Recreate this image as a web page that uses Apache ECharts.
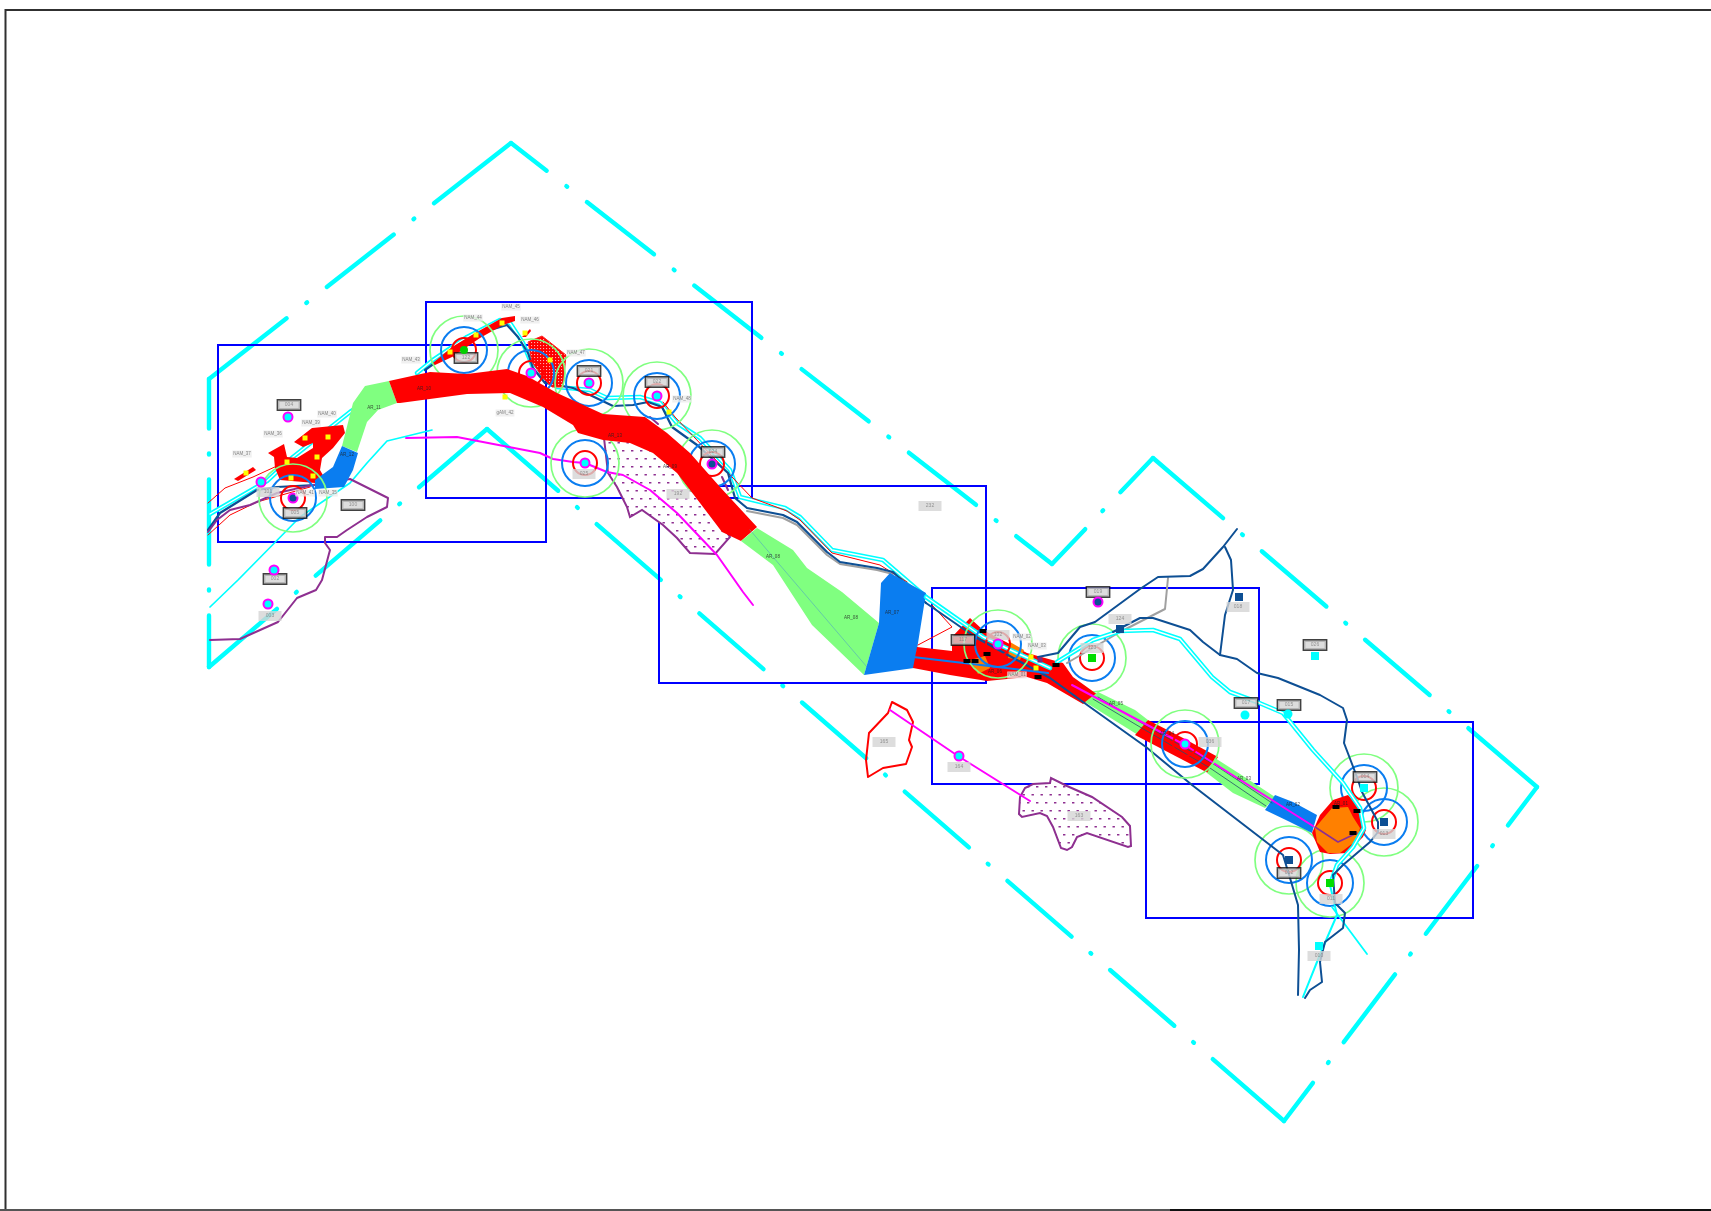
<!DOCTYPE html>
<html><head><meta charset="utf-8">
<style>html,body{margin:0;padding:0;background:#fff}#c{width:1711px;height:1211px}</style>
<script src="https://cdn.jsdelivr.net/npm/echarts@6/dist/echarts.min.js"></script>
</head><body><div id="c"></div>
<script>
// ---- map geometry (map units) ----
const frameLines=[[[5.5,1211],[5.5,10],[1711,10]],[[0,1210],[1170,1210]],[[1170,1210],[1711,1210]]];
const boundaryCorners=[[511,143],[1052,564],[1153,458],[1537,787],[1284,1121],[487,429],[209,667],[209,379],[511,143]];
const boundaryFirstDot=[70.7,73.6,117.8,73.6,119.8,115,77,124];
const sheetRects=[[218,345,546,542],[426,302,752,498],[659,486,986,683],[932,588,1259,784],[1146,722,1473,918]];

const bandAR10=[[389,381],[430,372],[467,374],[507,369],[527,376],[557,393],[603,414],[645,417],[667,433],[690,453],[720,487],[757,527],[741,541],[722,532],[700,503],[677,473],[653,453],[630,443],[603,440],[578,433],[573,425],[543,407],[510,393],[467,394],[400,403],[397,403]];
const bandAR11=[[365,386],[389,381],[397,403],[378,410],[367,422],[357,452],[342,446],[353,403]];
const bandAR12=[[342,446],[358,453],[353,470],[344,487],[315,489],[315,480],[333,467]];
const bandAR08=[[757,528],[793,550],[807,568],[842,592],[879,623],[864,675],[812,625],[773,565],[741,541]];
const bandAR07=[[890,573],[926,593],[914,668],[864,675],[879,623],[881,583]];
const bandAR06=[[917,647],[952,651],[952,637],[970,618],[983,630],[1027,653],[1063,663],[1073,677],[1098,695],[1083,704],[1047,683],[1027,677],[987,681],[950,675],[913,668]];
const bandAR05=[[1098,692],[1135,710],[1148,720],[1138,735],[1085,702]];
const bandAR04=[[1148,720],[1183,738],[1218,757],[1208,773],[1135,735]];
const bandAR03=[[1215,758],[1240,774],[1275,797],[1265,808],[1233,793],[1207,773]];
const bandAR02=[[1275,795],[1293,802],[1317,815],[1312,833],[1290,822],[1265,810]];
const bandAR01=[[1320,815],[1333,800],[1348,795],[1360,808],[1366,830],[1363,837],[1347,853],[1330,854],[1320,852],[1312,833]];
const orangeAR01=[[1315,828],[1332,808],[1348,807],[1353,817],[1360,828],[1357,840],[1340,853],[1328,853],[1317,842]];
const orangeA=[[1010,642],[1024,650],[1020,660],[1008,658]];
const orangeB=[[970,660],[985,656],[990,668],[978,674]];

const blobWest=[[294,442],[312,428],[343,425],[345,433],[333,448],[322,458],[320,470],[324,477],[315,483],[280,480],[275,468],[274,457],[268,453],[284,444],[287,457],[297,458],[313,448],[313,443],[303,447]];
const blobSmall=[[234,479],[253,467],[256,470],[238,481]];
const stripNorth=[[433,363],[452,347],[477,332],[502,318],[515,316],[515,321],[503,325],[480,338],[452,357],[435,365]];
const stripTiny=[[522,337],[530,329],[531,331],[526,337]];
const dottedRed=[[528,342],[542,336],[566,355],[563,387],[552,387],[543,378],[532,362]];
const dottedPurpleA=[[604,438],[608,473],[617,487],[627,507],[630,517],[642,510],[663,525],[677,538],[690,553],[715,554],[730,537],[722,525],[700,490],[660,440]];
const dottedPurpleB=[[1051,778],[1050,783],[1033,784],[1025,788],[1020,797],[1019,814],[1022,817],[1040,813],[1047,816],[1053,827],[1061,848],[1067,850],[1072,847],[1077,837],[1087,833],[1128,847],[1131,846],[1130,826],[1122,817],[1092,797],[1067,786]];
const outline165=[[892,702],[907,710],[913,722],[909,740],[912,747],[906,764],[883,768],[868,777],[866,760],[869,733],[888,713],[892,702]];

const magentaA=[[406,438],[457,437],[540,453],[553,459],[573,462],[585,463],[607,472],[623,475],[650,490],[677,513],[717,555],[743,592],[753,605]];
const magentaB=[[890,710],[958,756],[1030,801]];
const magentaC=[[1072,685],[1185,745],[1313,826]];
const purpleWest=[[208,532],[217,520],[230,510],[250,505],[277,493],[313,485],[350,479],[388,498],[387,507],[367,517],[347,530],[337,537],[325,537],[325,543],[330,550],[322,580],[316,590],[297,598],[278,622],[240,639],[210,640]];
const cyanThinWest=[[210,607],[238,580],[300,517],[350,483],[367,463],[387,441],[432,430]];
const purpleShort=[[650,417],[658,424]];
const purpleNear=[[722,477],[728,490]];

const riverCyanWest=[[210,514],[267,481],[293,457],[350,412],[368,400]];
const riverCyanMid=[[417,373],[433,360],[467,337],[500,320],[510,323],[523,343],[533,367],[557,387],[590,390],[607,398],[640,397],[660,403],[677,423],[700,438],[730,470],[740,497],[785,508],[800,517],[832,550],[883,560],[897,572],[926,597]];
const riverCyanEast=[[926,597],[983,637],[1017,653],[1050,668]];
const riverCyanBranch=[[1057,662],[1093,640],[1120,631],[1153,630],[1180,639],[1212,677],[1230,692],[1257,702],[1283,713],[1313,750],[1343,783],[1360,808],[1364,828],[1353,847],[1337,865],[1330,885]];
const riverCyanLower=[[1330,885],[1337,915],[1327,938],[1317,962],[1303,997]];
const riverCyanSpur=[[1332,907],[1367,954]];
const riverDarkWest=[[208,530],[220,513],[257,490],[277,487],[315,485]];
const riverDarkMid=[[425,370],[453,350],[490,330],[507,325],[518,337],[528,353],[533,368],[545,383],[573,388],[590,395],[613,406],[633,405],[648,402],[662,407],[672,427],[697,445],[728,473],[735,498],[747,508],[783,515],[797,522],[827,552],[840,562],[877,568],[893,572],[926,603]];
const riverDarkEast=[[926,603],[975,637],[1017,660],[1050,678],[1090,707],[1146,747],[1192,785],[1283,855],[1290,878],[1298,905],[1299,950],[1298,995]];
const riverDarkNorth=[[1038,657],[1058,653],[1080,627],[1095,622],[1140,589],[1158,577],[1190,576],[1203,569],[1223,547],[1237,529]];
const riverDarkSouth=[[1113,632],[1140,618],[1153,618],[1190,630],[1203,642],[1220,655],[1237,659],[1257,673],[1278,678],[1320,695],[1343,708],[1347,720],[1344,743],[1357,777],[1362,792],[1378,822],[1378,832],[1370,842],[1343,865],[1333,875],[1335,903],[1345,913],[1343,928],[1325,942],[1320,962],[1322,982],[1310,990],[1305,998]];
const riverDarkFeeder=[[1225,547],[1231,560],[1233,590],[1225,615],[1220,655]];
const riverGrayEast=[[1168,578],[1165,609],[1120,632],[1067,663]];
const riverGrayShadow=[[747,511],[783,518],[797,525],[827,555],[840,564],[877,570],[893,574]];
const redThinA=[[208,503],[225,488],[253,477],[290,460]];
const redThinB=[[208,535],[230,515],[257,502],[310,487]];
const redThinC=[[663,402],[675,417],[752,498],[787,511],[800,520],[832,553],[880,565],[907,582]];
const redThinD=[[918,645],[952,627],[932,605]];
const blueAR06=[[913,657],[1048,673]];
const innerAR01=[[1315,827],[1338,842],[1357,833]];
const darkHatchA=[[1098,697],[1150,728],[1215,765],[1272,803]];
const darkHatchB=[[1093,699],[1140,727],[1210,768],[1266,806]];
const faintAR08=[[750,530],[867,667]];

const ringCentersBack=[[464,350],[531,373],[589,383],[657,396],[712,464],[585,463],[1092,658],[1364,788],[1384,822],[1289,860],[1330,883]];
const ringCentersFront=[[293,498],[998,644],[1185,744]];
const ringRadii=[34,23,12];

const circleCyanMagenta=[[288,417],[261,482],[274,570],[268,604],[531,373],[589,383],[657,396],[585,463],[998,644],[1185,744],[959,756]];
const circleDarkMagenta=[[293,498],[712,464],[1098,602]];
const circleGreen=[[464,350]];
const circleCyanPlain=[[1245,715],[1288,714]];
const squareDark=[[1120,629],[1239,597],[1384,822],[1289,860]];
const squareGreen=[[1092,658],[1330,883]];
const squareCyan=[[1315,656],[1364,788],[1319,946]];
const yellowMarks=[[305,438],[328,437],[317,457],[287,462],[291,478],[313,476],[246,473],[450,352],[476,335],[502,323],[525,333],[550,360],[505,397],[669,412],[1031,657],[1036,668]];
const blackMarks=[[987,654],[975,661],[967,661],[983,631],[1038,677],[1056,665],[1336,807],[1357,811],[1353,833]];
const purpleMarks=[[1040,660]];

const boxLabelsBlack=[[289,405,'004'],[295,513,'005'],[275,579,'002'],[353,505,'100'],[466,358,'122'],[589,371,'021'],[657,382,'022'],[713,452,'024'],[963,640,'117'],[1098,592,'019'],[1246,703,'017'],[1289,705,'015'],[1315,645,'026'],[1365,777,'014'],[1289,873,'012']];
const boxLabelsGray=[[268,492,'101'],[270,616,'003'],[584,474,'025'],[678,494,'192'],[930,506,'232'],[884,742,'165'],[959,767,'164'],[1079,816,'163'],[998,635,'102'],[1092,648,'123'],[1120,619,'124'],[1238,607,'018'],[1210,742,'036'],[1384,834,'013'],[1331,899,'011'],[1319,956,'010']];
const namLabels=[[242,454,'NAM_37'],[273,434,'NAM_36'],[311,423,'NAM_39'],[327,414,'NAM_40'],[305,493,'NAM_41'],[328,493,'NAM_35'],[411,360,'NAM_43'],[473,318,'NAM_44'],[511,307,'NAM_45'],[530,320,'NAM_46'],[576,353,'NAM_47'],[505,413,'gAM_42'],[682,399,'NAM_48'],[1022,637,'NAM_02'],[1037,646,'NAM_03'],[1017,675,'NAM_01']];
const arLabels=[[424,389,'AR_10'],[374,408,'AR_11'],[347,455,'AR_12'],[615,436,'AR_13'],[670,467,'AR_09'],[773,557,'AR_08'],[851,618,'AR_08'],[892,613,'AR_07'],[995,672,'AR_06'],[1116,704,'AR_05'],[1167,734,'AR_04'],[1244,779,'AR_03'],[1293,805,'AR_02'],[1341,804,'AR_01']];

// ---- styles ----
const C={cyan:'#00ffff',blue:'#0000ff',red:'#ff0000',green:'#80ff80',ring:'#0a7df0',dark:'#0d4f94',purple:'#8e2f90',mag:'#ff00ff',orange:'#ff8000',gray:'#a0a0a0',label:'#d4d4d4'};
function tile(w,h,bg,fg,dots,rw,rh){
  const c=document.createElement('canvas');c.width=w;c.height=h;const g=c.getContext('2d');
  if(bg){g.fillStyle=bg;g.fillRect(0,0,w,h);}
  g.fillStyle=fg;dots.forEach(d=>g.fillRect(d[0],d[1],rw,rh));return c;
}
const purplePat={image:tile(18,16,'#ffffff',C.purple,[[1,2],[10,2],[5.5,10],[14.5,10]],2.4,1.5),repeat:'repeat'};
const redPat={image:tile(3,3,C.red,'#ffb0b0',[[0,0]],1.1,1.1),repeat:'repeat'};

const series=[];let zn=1;
function line(pts,color,w,extra){
  series.push({type:'line',data:pts,z:zn++,silent:true,showSymbol:false,symbol:'none',clip:false,animation:false,
    lineStyle:Object.assign({color:color,width:w,cap:'round',join:'round',opacity:1},(extra||{}))});
}
function poly(pts,fill,stroke,lw){
  series.push({type:'custom',z:zn++,silent:true,clip:false,animation:false,data:pts,encode:{x:0,y:1},
    renderItem:function(params,api){
      if(params.dataIndex!==0)return null;
      return {type:'polygon',shape:{points:pts.map(p=>api.coord(p))},style:{fill:fill,stroke:stroke||null,lineWidth:lw||0}};
    }});
}
function marks(pts,symbol,size,color,border,bw){
  series.push({type:'scatter',z:zn++,silent:true,clip:false,animation:false,data:pts,symbol:symbol,symbolSize:size,
    itemStyle:{color:color,opacity:1,borderColor:border||'transparent',borderWidth:bw||0}});
}
function rings(centers){
  const cols=[C.green,C.ring,C.red],ws=[1.7,2,2];
  ringRadii.forEach((r,i)=>marks(centers,'circle',2*r,'transparent',cols[i],ws[i]));
}
function labels(rows,st){
  series.push({type:'scatter',z:zn++,silent:true,clip:false,animation:false,symbol:'circle',symbolSize:1,itemStyle:{color:'transparent'},
    data:rows.map(r=>({value:[r[0],r[1]],name:r[2]})),
    label:Object.assign({show:true,position:'inside',formatter:'{b}',fontFamily:'Liberation Sans',align:'center',verticalAlign:'middle'},st)});
}
// A drafting linetype: long dash, gap, dot, gap; each edge starts and ends on a dash.
function dashFor(len,firstDot){
  const out=[firstDot-25.5,25,1,25];let at=firstDot+25.5;
  while(at+85+25.5<len){out.push(85,25,1,25);at+=136;}
  out.push(len-at+10,10);
  return out;
}

// ---- layers, back to front ----
line(frameLines[0],'#303030',2,{cap:'butt',join:'miter'});
line(frameLines[1],'#555555',2,{cap:'butt'});
line(frameLines[2],'#111111',2,{cap:'butt'});
boundaryFirstDot.forEach((d,i)=>{
  const a=boundaryCorners[i],b=boundaryCorners[i+1];
  line([a,b],C.cyan,4.4,{type:dashFor(Math.hypot(b[0]-a[0],b[1]-a[1]),d)});
});
sheetRects.forEach(r=>line([[r[0],r[1]],[r[2],r[1]],[r[2],r[3]],[r[0],r[3]],[r[0],r[1]]],C.blue,2,{join:'miter',cap:'square'}));
poly(dottedPurpleA,purplePat,C.purple,2);
poly(dottedPurpleB,purplePat,C.purple,2);
line(outline165,C.red,2);
line(magentaA,C.mag,2);
line(magentaB,C.mag,2);
line(cyanThinWest,C.cyan,1.7);
line(redThinA,C.red,1);
line(redThinB,C.red,1);
line(purpleShort,C.purple,2);
line(purpleNear,C.purple,2);
line(riverGrayShadow,C.gray,2);
[riverCyanWest,riverCyanMid].forEach(p=>{line(p,C.cyan,4.6);line(p,'#ffffff',1.4);});
line(redThinC,C.red,1);
line(riverDarkWest,C.dark,2.2);
line(riverDarkMid,C.dark,2.2);
line(purpleWest,C.purple,2);
poly(blobWest,C.red);
poly(blobSmall,C.red);
poly(stripNorth,C.red);
poly(stripTiny,C.red);
poly(dottedRed,redPat,'#ff2020',1);
rings(ringCentersBack);
poly(bandAR11,C.green);
poly(bandAR12,C.ring);
poly(bandAR10,C.red);
poly(bandAR08,C.green);
line(faintAR08,'#50a8c0',0.6);
poly(bandAR07,C.ring);
line(riverGrayEast,C.gray,2);
poly(bandAR06,C.red);
poly(orangeA,C.orange);
poly(orangeB,C.orange);
poly(bandAR05,C.green);
poly(bandAR04,C.red);
poly(bandAR03,C.green);
poly(bandAR02,C.ring);
poly(bandAR01,C.red);
poly(orangeAR01,C.orange);
line(darkHatchA,'#24506a',0.8);
line(darkHatchB,'#24506a',0.8);
line(redThinD,C.red,1);
line(riverCyanEast,C.cyan,4.6);line(riverCyanEast,'#ffffff',1.4);
line(riverCyanBranch,C.cyan,4.6);line(riverCyanBranch,'#ffffff',1.4);
line(riverCyanLower,C.cyan,2);
line(riverCyanSpur,C.cyan,1.8);
line(riverDarkEast,C.dark,2);
line(riverDarkNorth,C.dark,2);
line(riverDarkSouth,C.dark,2);
line(riverDarkFeeder,C.dark,2);
line(blueAR06,C.ring,2.2);
line(magentaC,C.mag,2);
line(innerAR01,C.purple,1.6);
rings(ringCentersFront);
marks(yellowMarks,'rect',5,'#ffff00');
marks(blackMarks,'rect',[7,4],'#000000');
marks(purpleMarks,'rect',5,'#7a2a80');
labels(boxLabelsGray,{width:23,height:10,lineHeight:10,backgroundColor:C.label,color:'#808080',fontSize:5});
labels(boxLabelsBlack,{width:22,height:9,lineHeight:9,backgroundColor:C.label,borderColor:'#111111',borderWidth:1.4,color:'#808080',fontSize:5});
marks(circleCyanMagenta,'circle',9,C.cyan,C.mag,2);
marks(circleDarkMagenta,'circle',9,C.dark,C.mag,2);
marks(circleGreen,'circle',8,'#00d000');
marks(circleCyanPlain,'circle',9,C.cyan);
marks(squareDark,'rect',8,C.dark);
marks(squareGreen,'rect',8,'#00dd00');
marks(squareCyan,'rect',8,C.cyan);
labels(namLabels,{backgroundColor:'#ececec',padding:[1,1],color:'#666666',fontSize:4.5});
labels(arLabels,{color:'#222222',fontSize:4.5});

const chart=echarts.init(document.getElementById('c'),null,{renderer:'canvas'});
chart.setOption({
  animation:false,backgroundColor:'#ffffff',
  grid:{left:0,right:0,top:0,bottom:0,containLabel:false},
  xAxis:{type:'value',min:0,max:1711,show:false},
  yAxis:{type:'value',min:0,max:1211,inverse:true,show:false},
  tooltip:{show:false},legend:{show:false},
  series:series
});
</script></body></html>
